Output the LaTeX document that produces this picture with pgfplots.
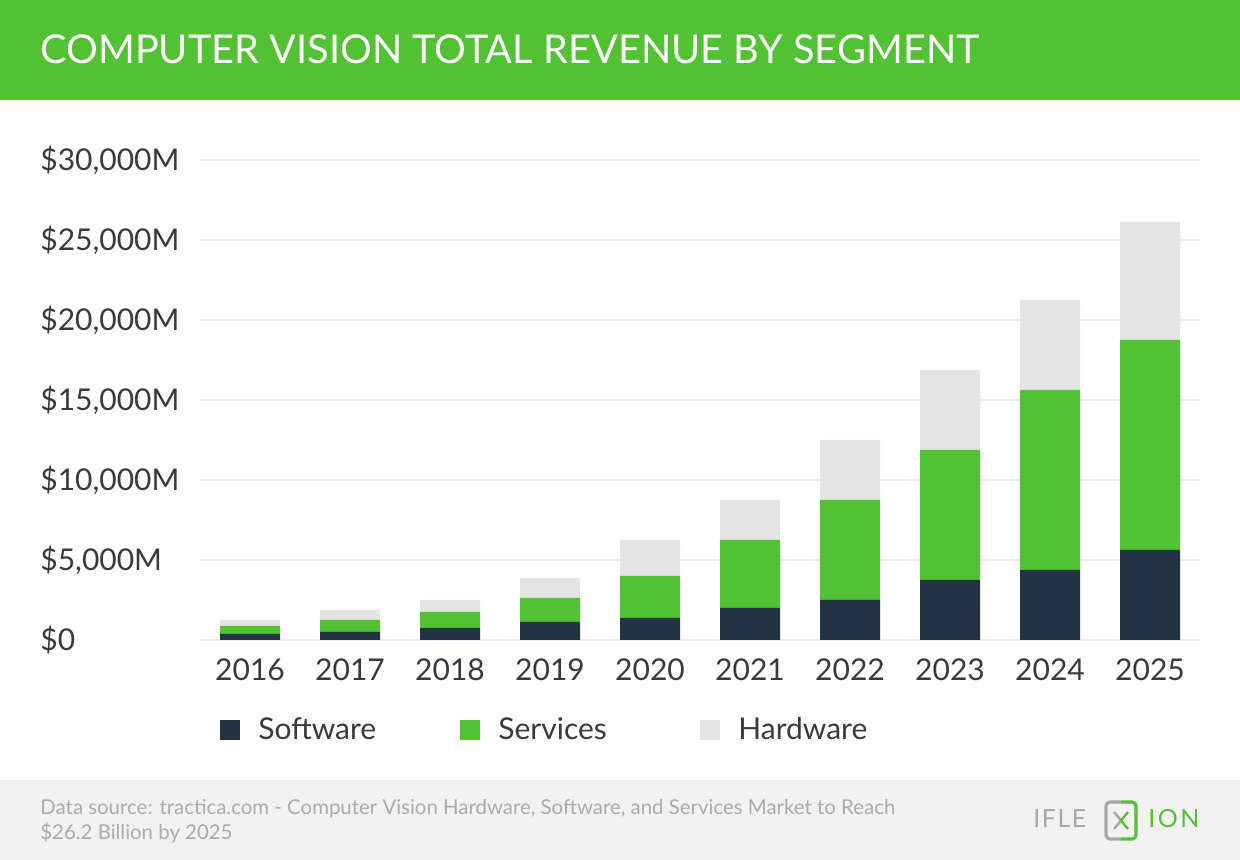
\documentclass[border=0pt]{standalone}
\usepackage{fontspec}
\setmainfont{Lato}
\usepackage{pgfplots}
\pgfplotsset{compat=1.18}
\definecolor{hdrgreen}{HTML}{52C234}
\definecolor{svcgreen}{HTML}{52C234}
\definecolor{swnavy}{HTML}{243342}
\definecolor{hwgray}{HTML}{E4E4E4}
\definecolor{footgray}{HTML}{F2F2F2}
\definecolor{foottext}{HTML}{ABABAB}
\definecolor{labeltext}{HTML}{3A3A3A}
\definecolor{gridc}{HTML}{EEEEEE}
\definecolor{logogray}{HTML}{A8A8A8}
\begin{document}
\begin{tikzpicture}
\fill[white] (0,0) rectangle (620pt,430pt);
\fill[hdrgreen] (0,380pt) rectangle (620pt,430pt);
\fill[footgray] (0,0) rectangle (620pt,40pt);
\node[anchor=west, text=white, inner sep=0pt, font=\fontsize{19.85}{22}\selectfont] at (20pt,405.5pt) {COMPUTER VISION TOTAL REVENUE BY SEGMENT};
\begin{axis}[
  at={(100pt,110pt)}, anchor=south west,
  scale only axis, width=500pt, height=240pt,
  xmin=-0.5, xmax=9.5, ymin=0, ymax=30000,
  ybar stacked, bar width=30pt,
  axis line style={draw=none}, major tick length=0pt,
  ymajorgrids, grid style={gridc, line width=0.8pt},
  ytick={0,5000,10000,15000,20000,25000,30000},
  yticklabels={{\$0},{\$5,000M},{\$10,000M},{\$15,000M},{\$20,000M},{\$25,000M},{\$30,000M}},
  xtick={0,1,2,3,4,5,6,7,8,9},
  xticklabels={2016,2017,2018,2019,2020,2021,2022,2023,2024,2025},
  yticklabel style={anchor=west, xshift=-80pt, inner sep=0pt, text=labeltext, font=\fontsize{15}{18}\selectfont},
  xticklabel style={anchor=center, yshift=-15pt, inner sep=0pt, text=labeltext, font=\fontsize{15}{18}\selectfont},
  scaled y ticks=false,
  legend style={at={(0.02,-0.1875)}, anchor=west, draw=none, fill=none, inner sep=0pt,
    legend columns=3, font=\fontsize{15}{18}\selectfont, text=labeltext,
    nodes={inner sep=0pt, anchor=west},
    /tikz/every odd column/.append style={column sep=9pt}},
  legend image code/.code={\fill[#1] (0pt,-5pt) rectangle (10pt,5pt);},
]
\addplot[fill=swnavy, draw=none] coordinates {(0,375) (1,500) (2,750) (3,1125) (4,1375) (5,2000) (6,2500) (7,3750) (8,4375) (9,5625)};
\addlegendentry{\makebox[101pt][l]{Software}}
\addplot[fill=svcgreen, draw=none] coordinates {(0,500) (1,750) (2,1000) (3,1500) (4,2625) (5,4250) (6,6250) (7,8125) (8,11250) (9,13125)};
\addlegendentry{\makebox[101pt][l]{Services}}
\addplot[fill=hwgray, draw=none] coordinates {(0,375) (1,625) (2,750) (3,1250) (4,2250) (5,2500) (6,3750) (7,5000) (8,5625) (9,7375)};
\addlegendentry{\makebox[101pt][l]{Hardware}}
\end{axis}
\node[anchor=base west, inner sep=0pt, text=foottext, font=\fontsize{10.2}{12}\selectfont] at (20pt,22.5pt) {Data source: tractica.com - Computer Vision Hardware, Software, and Services Market to Reach};
\node[anchor=base west, inner sep=0pt, text=foottext, font=\fontsize{10.2}{12}\selectfont] at (20pt,10pt) {\$26.2 Billion by 2025};
% logo
\node[anchor=base west, inner sep=0pt, text=logogray, font=\fontsize{12.5}{14}\selectfont\addfontfeature{LetterSpace=6}] at (516.5pt,16pt) {IFLE};
\draw[logogray, line width=1.6pt, rounded corners=2pt] (560.5pt,29pt) -- (553pt,29pt) -- (553pt,10.5pt) -- (560.5pt,10.5pt);
\draw[hdrgreen, line width=1.6pt, rounded corners=2pt] (560.5pt,29pt) -- (568pt,29pt) -- (568pt,10.5pt) -- (560.5pt,10.5pt);
\draw[logogray, line width=1.2pt] (557pt,24pt) -- (560.5pt,19.75pt) -- (557pt,15.5pt);
\draw[hdrgreen, line width=1.2pt] (564pt,24pt) -- (560.5pt,19.75pt) -- (564pt,15.5pt);
\node[anchor=base west, inner sep=0pt, text=hdrgreen, font=\fontsize{12.5}{14}\selectfont\addfontfeature{LetterSpace=10}] at (574pt,16pt) {ION};
\end{tikzpicture}
\end{document}
